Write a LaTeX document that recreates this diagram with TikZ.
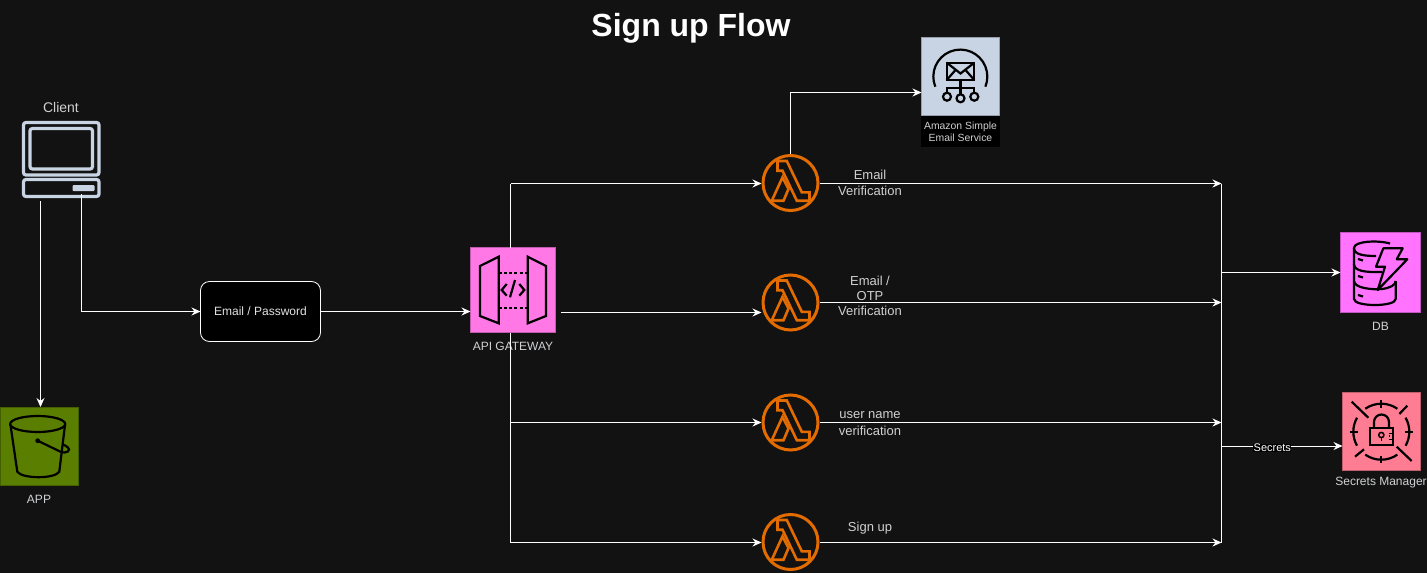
\documentclass[tikz,border=0pt]{standalone}
\usepackage{fontspec}
\setmainfont{Liberation Sans}
\usetikzlibrary{arrows.meta}
\definecolor{bgc}{HTML}{121212}
\definecolor{lamc}{HTML}{E36C00}
\definecolor{lblc}{HTML}{D0D0D0}
\definecolor{iconc}{HTML}{C8D4E4}
\definecolor{apic}{HTML}{FF78E6}
\definecolor{dbc}{HTML}{FF73FF}
\definecolor{secc}{HTML}{FF7D92}
\definecolor{sthree}{HTML}{5A7F00}
\tikzset{
  x=1pt,y=-1pt,
  wire/.style={draw=white,line width=1pt},
  arrowwire/.style={wire,-{Stealth[length=9pt,width=8pt]}},
  awsbox/.style={draw=black!25!#1,line width=0.8pt,fill=#1,minimum size=78pt,inner sep=0pt,outer sep=0pt},
  lamb/.style={circle,draw=lamc,line width=3pt,minimum size=55pt,inner sep=0pt,outer sep=1.5pt},
  glyph/.style={draw=black,line width=2.2pt,line join=miter},
  lbl/.style={text=lblc,font=\fontsize{13}{15}\selectfont,align=center,inner sep=0pt},
  capt/.style={text=lblc!85!iconc,font=\fontsize{12}{14}\selectfont,align=center,inner sep=0pt},
  emailbox/.style={draw=white,fill=black,rounded corners=9pt,line width=0.8pt,minimum width=120pt,minimum height=60pt,text=lblc!60!white,font=\fontsize{12}{14}\selectfont,inner sep=0pt,outer sep=0pt},
}
\newcommand{\lamglyph}[1]{%
  \begin{scope}[shift={(#1.center)},draw=lamc,line width=2.6pt,line join=miter]
    \draw (-13,-22)--(-3.7,-22)--(11.3,9.3)--(19,9.3)--(19,17.7)--(6.3,17.7)--(-8,-12.3)--(-13,-12.3)--cycle;
    \draw (-8,-5.7)--(-18.7,17.7)--(-7,17.7)--(-2,6)--cycle;
  \end{scope}}
\begin{document}
\begin{tikzpicture}
\useasboundingbox (0,0) rectangle (1427,573);
\fill[bgc] (0,0) rectangle (1427,573);

\node[text=white,font=\bfseries\fontsize{32}{38}\selectfont,inner sep=0pt] (title) at (691,28) {Sign up Flow};

% client
\node[lbl,font=\fontsize{14}{16}\selectfont] (clientlbl) at (61,107) {Client};
\node[minimum width=76pt,minimum height=76pt,inner sep=0pt] (client) at (61,159.5) {};
\begin{scope}[draw=iconc,line width=3.2pt,rounded corners=2.5pt]
  \draw (23.5,122.5) rectangle (99,175);
  \draw (30,128.5) rectangle (92.5,169);
  \draw (23.5,179.5) rectangle (99,196.5);
  \fill[iconc,rounded corners=1pt] (72.5,185) rectangle (94.5,191);
\end{scope}
\coordinate (clientL) at (40.5,201);
\coordinate (clientR) at (81.5,194);

% S3
\node[awsbox=sthree] (app) at (39,446) {};
\node[capt] (applbl) at (39,499) {APP};
\begin{scope}[glyph]
  \draw (37.7,424) ellipse [x radius=27.5pt,y radius=8pt];
  \draw (10.5,425) -- (17.3,471.7) .. controls (22,479) and (55,479) .. (59.3,471.7) -- (65,425);
  \fill (37.7,440.7) circle[radius=2.4pt];
  \draw (37.7,440.7) -- (60,451.5) .. controls (67,454.5) and (71,450) .. (68,447.5) .. controls (66,445.5) and (64,445) .. (62.5,444.5);
\end{scope}

% email box
\node[emailbox] (email) at (260.5,311.5) {Email / Password};

% API gateway
\node[awsbox=apic,minimum size=85pt] (api) at (513,290) {};
\node[capt] (apilbl) at (513,346) {API GATEWAY};
\begin{scope}[glyph]
  \draw (480,266)--(498.7,256.7)--(498.7,323.3)--(480,316)--cycle;
  \draw (527.7,256.7)--(546,266)--(546,316)--(527.7,323.3)--cycle;
  \draw[dash pattern=on 3pt off 2.2pt] (498.7,273.3)--(527.7,273.3);
  \draw[dash pattern=on 3pt off 2.2pt] (498.7,307.7)--(527.7,307.7);
  \draw (506.7,284)--(501.7,290)--(506.7,295.7);
  \draw (519.3,284)--(524.3,290)--(519.3,295.7);
  \draw (515,280)--(510,297.3);
\end{scope}
\coordinate (apiOut) at (561,312.5);
\coordinate (apiTop) at (510.5,247.5);
\coordinate (apiBot) at (510.5,332.5);
\coordinate (cornerTop) at (510.5,183.5);
\coordinate (cornerBot) at (510.5,542.5);
\coordinate (branch) at (510.5,422.5);

% lambdas
\node[lamb] (l1) at (790.5,183) {};
\node[lamb] (l2) at (790.5,302.5) {};
\node[lamb] (l3) at (790.5,422.5) {};
\node[lamb] (l4) at (790.5,542) {};
\lamglyph{l1}\lamglyph{l2}\lamglyph{l3}\lamglyph{l4}

\node[lbl] (t1a) at (870,175) {Email};
\node[lbl] (t1b) at (870,191) {Verification};
\node[lbl] (t2a) at (870,280.5) {Email /};
\node[lbl] (t2b) at (870,296) {OTP};
\node[lbl] (t2c) at (870,311) {Verification};
\node[lbl] (t3a) at (870,415) {user name};
\node[lbl] (t3b) at (870,431) {verification};
\node[lbl] (t4) at (870,528) {Sign up};

% SES
\node[awsbox=iconc] (ses) at (960.5,76.5) {};
\node[fill=black,minimum width=79pt,minimum height=31pt,inner sep=0pt,text=lblc,font=\fontsize{10.4}{12}\selectfont,align=center] (seslbl) at (960.5,131.5) {Amazon Simple\\Email Service};
\begin{scope}[glyph]
  \draw (935.3,86.7) arc[start angle=202,end angle=-22,radius=27pt];
  \draw (946.7,62.7) rectangle (974.3,80);
  \draw (946.7,62.7)--(960.5,73.5)--(974.3,62.7);
  \draw (946.7,80)--(955.5,70);
  \draw (974.3,80)--(965.5,70);
  \draw (960.5,80)--(960.5,94);
  \draw (947,92.7)--(947,88.3)--(974.3,88.3)--(974.3,92.7);
  \draw (947,96.7) circle[radius=4pt];
  \draw (960.5,98.3) circle[radius=4pt];
  \draw (974.3,96.7) circle[radius=4pt];
\end{scope}

% DB
\node[awsbox=dbc,minimum size=80pt] (db) at (1380.5,272.5) {};
\node[capt] (dblbl) at (1380.5,326) {DB};
\begin{scope}[glyph,line join=round]
  \draw (1390,243.5) .. controls (1378,240) and (1354,241) .. (1354,248) -- (1354,299) .. controls (1354,307) and (1395.7,307) .. (1395.7,299) -- (1395.7,281);
  \draw (1354,248) .. controls (1354,255) and (1365,256) .. (1376,256);
  \draw (1354,264) .. controls (1354,271) and (1365,272.5) .. (1382,272);
  \draw (1354,281) .. controls (1354,288) and (1372,290) .. (1382,289) .. controls (1390,288) and (1395.7,285) .. (1395.7,281);
  \draw (1358,259) -- (1363,260.5);
  \draw (1358,276) -- (1363,277.5);
  \draw (1358,295) -- (1363,296.5);
  \draw (1383.3,248.3)--(1402.7,248.3)--(1396.7,259.3)--(1407.3,259.3)--(1377.7,290)--(1385,266.7)--(1376,266.7)--cycle;
\end{scope}

% Secrets
\node[awsbox=secc] (sec) at (1381.5,431.5) {};
\node[capt] (seclbl) at (1381,483) {Secrets Manager};
\begin{scope}[glyph]
  \draw (1351.7,401.7)--(1368.3,417.7);
  \draw (1411.7,461)--(1396.7,446.7);
  \draw (1407.3,405.7)--(1399.3,414);
  \draw (1355,456.7)--(1364,449.3);
  \draw (1350,431.7)--(1358.3,431.7);
  \draw (1405,431.7)--(1412.7,431.7);
  \draw (1381.3,400)--(1381.3,408);
  \draw (1381.3,456)--(1381.3,462.5);
  \draw (1381.3,431.7) ++(55:28pt) arc[start angle=55,end angle=125,radius=28pt];
  \draw (1381.3,431.7) ++(235:28pt) arc[start angle=235,end angle=305,radius=28pt];
  \draw (1381.3,431.7) ++(150:28pt) arc[start angle=150,end angle=210,radius=28pt];
  \draw (1381.3,431.7) ++(-30:28pt) arc[start angle=-30,end angle=30,radius=28pt];
  \draw (1370,427.7) rectangle (1393.3,445);
  \draw (1374,427.7) -- (1374,422) arc[start angle=180,end angle=0,radius=7.5pt] -- (1389,427.7);
  \draw[line width=1.5pt] (1381.3,435) circle[radius=2.6pt];
  \draw[line width=1.5pt] (1381.3,437.6)--(1381.3,441);
  \draw[line width=1.5pt] (1388.5,433.3)--(1393.3,433.3);
  \draw[line width=1.5pt] (1388.5,436.2)--(1390,436.2);
  \draw[line width=1.5pt] (1388.5,439.3)--(1393.3,439.3);
\end{scope}

% bus junctions
\coordinate (bus1) at (1221.5,183.5);
\coordinate (bus2) at (1221.5,302.5);
\coordinate (bus3) at (1221.5,422.5);
\coordinate (bus4) at (1221.5,542.5);
\coordinate (busDB) at (1221.5,272.5);
\coordinate (busSec) at (1221.5,446);

% connectors
\draw[arrowwire] (clientL) -- (clientL |- app.north) ;
\draw[arrowwire] (clientR) |- (email.west);
\draw[arrowwire] (email.east) -- (api.west |- email.east);
\draw[wire] (apiTop) -- (cornerTop);
\draw[arrowwire] (cornerTop) -- (l1.west |- cornerTop);
\draw[arrowwire] (apiOut) -- (l2.west |- apiOut);
\draw[wire] (apiBot) -- (cornerBot);
\draw[arrowwire] (branch) -- (l3.west |- branch);
\draw[arrowwire] (cornerBot) -- (l4.west |- cornerBot);
\draw[arrowwire] (l1.north) |- (ses.west |- 0,92.5);
\draw[arrowwire] (l1.east |- bus1) -- (bus1);
\draw[arrowwire] (l2.east) -- (bus2);
\draw[arrowwire] (l3.east) -- (bus3);
\draw[arrowwire] (l4.east |- bus4) -- (bus4);
\draw[wire] (bus1) -- (bus4);
\draw[arrowwire] (busDB) -- (db.west |- busDB);
\draw[arrowwire] (busSec) -- (sec.west |- busSec) node[pos=0.42,yshift=-2pt,fill=black,text=white,font=\fontsize{11}{12}\selectfont,inner sep=0.5pt] (seclabel) {Secrets};
\end{tikzpicture}
\end{document}
